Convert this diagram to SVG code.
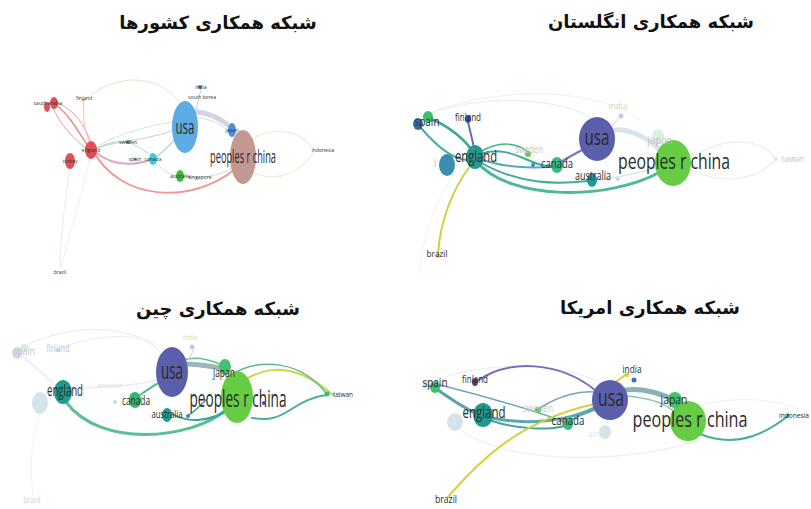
<svg xmlns="http://www.w3.org/2000/svg" width="811" height="509" viewBox="0 0 811 509">
<style>
.title{font-family:"DejaVu Sans",sans-serif;font-weight:bold;font-size:18px;fill:#111;text-anchor:middle}
.lb{font-family:"Open Sans","DejaVu Sans",sans-serif;fill:#2a2a2a;text-anchor:middle}
.tiny{font-family:"Open Sans",sans-serif;fill:#333;text-anchor:middle;font-size:5px}
.faint{fill:#c4c4c4}
.e{fill:none;stroke-linecap:round}
</style>
<rect width="811" height="509" fill="#fff"/>
<g id="titles">
<text class="title" x="218" y="29" direction="rtl">شبکه همکاری کشورها</text>
<text class="title" x="651" y="28" direction="rtl">شبکه همکاری انگلستان</text>
<text class="title" x="218" y="315" direction="rtl">شبکه همکاری چین</text>
<text class="title" x="650" y="314" direction="rtl">شبکه همکاری امریکا</text>
</g>

<!-- Panel 1 -->
<g id="p1-edges">
<path class="e" d="M84,100 C120,70 160,75 182,105" stroke="#f2e0cc" stroke-width="1"/>
<path class="e" d="M55,104 C70,115 80,135 88,146" stroke="#ec8888" stroke-width="1.5"/>
<path class="e" d="M52,106 C60,125 75,140 88,150" stroke="#ef9a9a" stroke-width="1"/>
<path class="e" d="M56,102 C75,110 85,125 92,145" stroke="#f0a0a0" stroke-width="1"/>
<path class="e" d="M84,101 C82,120 86,135 90,144" stroke="#f5c4a8" stroke-width="1"/>
<path class="e" d="M94,152 C120,200 190,205 234,170" stroke="#ee9a96" stroke-width="2"/>
<path class="e" d="M95,152 C115,168 135,165 150,160" stroke="#d8a8c8" stroke-width="2"/>
<path class="e" d="M96,148 C120,140 150,140 174,130" stroke="#c8d8e8" stroke-width="1.2"/>
<path class="e" d="M96,147 C115,135 150,125 173,122" stroke="#cfe8d8" stroke-width="1"/>
<path class="e" d="M95,150 C110,140 120,142 128,142" stroke="#a8d8a8" stroke-width="1"/>
<path class="e" d="M156,157 C165,150 172,143 176,138" stroke="#a8e0e8" stroke-width="1.5"/>
<path class="e" d="M130,143 C145,150 150,155 153,157" stroke="#b8e0b8" stroke-width="1"/>
<path class="e" d="M183,176 C200,180 220,175 233,168" stroke="#c8e8c8" stroke-width="1"/>
<path class="e" d="M155,162 C165,172 172,176 178,176" stroke="#c8e8c8" stroke-width="1"/>
<path class="e" d="M194,112 C210,112 222,120 232,128" stroke="#c8c8dc" stroke-width="5" opacity="0.8"/>
<path class="e" d="M196,118 C215,118 230,130 236,140" stroke="#d0d8e8" stroke-width="1"/>
<path class="e" d="M250,140 C275,125 300,130 314,150" stroke="#e8f0d4" stroke-width="1.2"/>
<path class="e" d="M252,172 C280,185 302,170 314,152" stroke="#e8f0d4" stroke-width="1.2"/>
<path class="e" d="M196,110 C198,100 200,95 201,89" stroke="#b8d0e8" stroke-width="1"/>
<path class="e" d="M70,168 C65,200 60,240 60,268" stroke="#f0e0e0" stroke-width="0.8"/>
<path class="e" d="M90,158 C80,200 68,240 61,268" stroke="#eaeaea" stroke-width="0.8"/>
</g>
<g id="p1-nodes">
<g id="p1-usa"><ellipse cx="185" cy="127" rx="13" ry="26" fill="#5eaae2"/><text class="lb" x="185" y="134" font-size="20" textLength="19" lengthAdjust="spacingAndGlyphs">usa</text></g>
<g id="p1-china"><ellipse cx="243" cy="157" rx="13" ry="27" fill="#c49892"/><text class="lb" x="243" y="163" font-size="18" textLength="66" lengthAdjust="spacingAndGlyphs">peoples r china</text></g>
<g id="p1-japan"><ellipse cx="232" cy="130" rx="4" ry="7" fill="#4a90d8"/><text class="tiny" x="232" y="132">japan</text></g>
<g id="p1-england"><ellipse cx="91" cy="150" rx="6" ry="9" fill="#e05058"/><text class="tiny" x="91" y="152" font-size="6">england</text></g>
<g id="p1-turkey"><ellipse cx="70" cy="161" rx="5" ry="8" fill="#e05058"/><text class="tiny" x="70" y="163" font-size="6">turkey</text></g>
<g id="p1-saudi"><ellipse cx="54" cy="103" rx="4" ry="6" fill="#e05058"/><ellipse cx="47" cy="107" rx="3" ry="5" fill="#e05058"/><text class="tiny" x="48" y="105" font-size="4">saudi arabia</text></g>
<g id="p1-finland"><circle cx="83" cy="100" r="1.5" fill="#f0b070"/><text class="tiny" x="84" y="100">finland</text></g>
<g id="p1-sweden"><circle cx="128" cy="142" r="2" fill="#40a040"/><text class="tiny" x="128" y="144">sweden</text></g>
<g id="p1-spain"><circle cx="135" cy="159" r="1.5" fill="#4aa0d0"/><text class="tiny" x="135" y="161">spain</text></g>
<g id="p1-canada"><ellipse cx="153" cy="159" rx="4" ry="6" fill="#40c8dc"/><text class="tiny" x="153" y="161">canada</text></g>
<g id="p1-australia"><ellipse cx="180" cy="176" rx="4" ry="6" fill="#3cb83c"/><text class="tiny" x="180" y="178">australia</text></g>
<g id="p1-singapore"><text class="tiny" x="200" y="179">singapore</text></g>
<g id="p1-india"><circle cx="200" cy="87" r="2" fill="#5070b0"/><text class="tiny" x="201" y="89">india</text><text class="tiny" x="202" y="99">south korea</text></g>
<g id="p1-indonesia"><text class="tiny" x="323" y="152">indonesia</text></g>
<g id="p1-brazil"><text class="tiny" x="60" y="274">brazil</text></g>
</g>

<!-- Panel 2 -->
<g id="p2-edges">
<path class="e" d="M420,117 C480,92 560,98 592,118" stroke="#dfeeee" stroke-width="1"/>
<path class="e" d="M430,113 C500,85 600,88 640,120" stroke="#e8f2f2" stroke-width="1"/>
<path class="e" d="M612,130 C630,128 648,138 660,150" stroke="#c4d8e4" stroke-width="5" opacity="0.7"/>
<path class="e" d="M690,158 C730,133 762,140 776,159" stroke="#e8f0dc" stroke-width="1.2"/>
<path class="e" d="M690,170 C730,188 762,176 776,159" stroke="#e6f2e8" stroke-width="1.2"/>
<path class="e" d="M455,172 C430,210 420,250 420,275" stroke="#eeeeee" stroke-width="0.8"/>
<path class="e" d="M476,161 C510,202 610,200 660,172" stroke="#4db89a" stroke-width="3"/>
<path class="e" d="M478,161 C520,186 560,184 588,181" stroke="#45aa98" stroke-width="2"/>
<path class="e" d="M480,154 C510,143 532,168 552,166" stroke="#40a8a0" stroke-width="2"/>
<path class="e" d="M480,159 C505,168 530,168 552,167" stroke="#5aa8b8" stroke-width="2"/>
<path class="e" d="M472,150 C458,132 440,122 430,119" stroke="#3aa898" stroke-width="2.5"/>
<path class="e" d="M421,128 C440,150 455,160 468,160" stroke="#48b09a" stroke-width="2"/>
<path class="e" d="M468,122 C471,135 473,143 474,148" stroke="#6a6ab8" stroke-width="2"/>
<path class="e" d="M480,152 C500,140 518,143 528,152" stroke="#44b08c" stroke-width="1.5"/>
<path class="e" d="M561,162 C572,155 582,150 588,147" stroke="#7878c8" stroke-width="2.5"/>
<path class="e" d="M597,180 C620,178 640,172 656,168" stroke="#cfe8e0" stroke-width="1.5"/>
<path class="e" d="M470,166 C452,190 440,222 438,254" stroke="#c8d440" stroke-width="2"/>
<path class="e" d="M612,126 C615,122 618,119 620,117" stroke="#c8c8e8" stroke-width="1"/>
</g>
<g id="p2-nodes">
<g id="p2-usa"><ellipse cx="597" cy="139" rx="18" ry="22" fill="#5b5eaa"/><text class="lb" x="597" y="145" font-size="22" textLength="25" lengthAdjust="spacingAndGlyphs">usa</text></g>
<g id="p2-china"><ellipse cx="673" cy="163" rx="18" ry="23" fill="#66cc44"/><text class="lb" x="674" y="169" font-size="22" textLength="112" lengthAdjust="spacingAndGlyphs">peoples r china</text></g>
<g id="p2-left"><ellipse cx="447" cy="165" rx="8" ry="11" fill="#3a8db0"/><text class="lb faint" x="435" y="167" font-size="10">l</text></g>
<g id="p2-england"><ellipse cx="475" cy="157" rx="9" ry="12" fill="#26998f"/><text class="lb" x="476" y="162" font-size="16" textLength="42" lengthAdjust="spacingAndGlyphs">england</text></g>
<g id="p2-spain"><ellipse cx="418" cy="124" rx="5" ry="6" fill="#3a6fa8"/><ellipse cx="428" cy="117" rx="5" ry="6" fill="#3cc070"/><text class="lb" x="427" y="126" font-size="13" textLength="25" lengthAdjust="spacingAndGlyphs">spain</text></g>
<g id="p2-finland"><ellipse cx="468" cy="119" rx="3" ry="4" fill="#4a4aa0"/><text class="lb" x="468" y="121" font-size="10" textLength="26" lengthAdjust="spacingAndGlyphs">finland</text></g>
<g id="p2-sweden"><circle cx="528" cy="154" r="3" fill="#66cc44"/><text class="lb faint" x="529" y="153" font-size="10" textLength="28" lengthAdjust="spacingAndGlyphs">sweden</text></g>
<g id="p2-canada"><circle cx="533" cy="165" r="2" fill="#3a8ab0"/><ellipse cx="557" cy="165" rx="6" ry="8" fill="#33bb88"/><text class="lb" x="557" y="168" font-size="13" textLength="32" lengthAdjust="spacingAndGlyphs">canada</text></g>
<g id="p2-australia"><ellipse cx="592" cy="180" rx="5" ry="7" fill="#22999a"/><circle cx="618" cy="179" r="2" fill="#d0d4e4"/><text class="lb" x="593" y="180" font-size="12" textLength="36" lengthAdjust="spacingAndGlyphs">australia</text></g>
<g id="p2-india"><circle cx="621" cy="116" r="2.5" fill="#c8c8e8"/><text class="lb" x="618" y="109" font-size="9" style="fill:#ddd6a0" textLength="19" lengthAdjust="spacingAndGlyphs">india</text></g>
<g id="p2-japan"><ellipse cx="658" cy="137" rx="6" ry="8" fill="#d8f0e0"/><text class="lb faint" x="660" y="144" font-size="11" textLength="25" lengthAdjust="spacingAndGlyphs">japan</text></g>
<g id="p2-taiwan"><circle cx="776" cy="159" r="1.5" fill="#d0e4d8"/><text class="lb faint" x="793" y="162" font-size="9" textLength="23" lengthAdjust="spacingAndGlyphs">taiwan</text></g>
<g id="p2-brazil"><circle cx="438" cy="256" r="2" fill="#e8d820"/><text class="lb" x="437" y="257" font-size="9" textLength="21" lengthAdjust="spacingAndGlyphs">brazil</text></g>
</g>

<!-- Panel 3 -->
<g id="p3-edges">
<path class="e" d="M20,348 C80,318 140,328 160,352" stroke="#e4eaee" stroke-width="1"/>
<path class="e" d="M60,348 C110,330 150,335 165,350" stroke="#eaeef2" stroke-width="1"/>
<path class="e" d="M22,356 C40,370 50,380 56,386" stroke="#e4eaee" stroke-width="1.5"/>
<path class="e" d="M72,390 C100,385 130,388 156,380" stroke="#e8eef0" stroke-width="1.5"/>
<path class="e" d="M40,414 C30,440 30,470 33,495" stroke="#eeeeee" stroke-width="0.8"/>
<path class="e" d="M186,364 C200,364 212,367 220,368" stroke="#9ab8b8" stroke-width="5"/>
<path class="e" d="M66,402 C100,448 190,440 226,410" stroke="#5ac090" stroke-width="3"/>
<path class="e" d="M140,395 C150,388 158,383 162,381" stroke="#55c090" stroke-width="2"/>
<path class="e" d="M172,414 C190,424 210,420 225,412" stroke="#3aa0a0" stroke-width="2"/>
<path class="e" d="M188,416 C196,410 202,404 206,400" stroke="#3a8ab0" stroke-width="1.2"/>
<path class="e" d="M246,379 C262,370 278,366 300,374 C315,380 325,388 333,395" stroke="#c8d84a" stroke-width="2"/>
<path class="e" d="M232,374 C260,358 300,360 326,393" stroke="#5ab890" stroke-width="1.5"/>
<path class="e" d="M252,418 C265,420 275,420 290,410 C305,400 318,396 326,395" stroke="#4ab09a" stroke-width="2"/>
<path class="e" d="M184,360 C196,356 210,360 220,364" stroke="#66c090" stroke-width="1.5"/>
<path class="e" d="M193,350 C192,355 190,357 188,360" stroke="#d0d0e8" stroke-width="1"/>
</g>
<g id="p3-nodes">
<g id="p3-usa"><ellipse cx="172" cy="372" rx="16" ry="25" fill="#5b5eaa"/><text class="lb" x="172" y="379" font-size="24" textLength="22" lengthAdjust="spacingAndGlyphs">usa</text></g>
<g id="p3-china"><ellipse cx="237" cy="397" rx="16" ry="26" fill="#66cc44"/><text class="lb" x="238" y="407" font-size="24" textLength="97" lengthAdjust="spacingAndGlyphs">peoples r china</text></g>
<g id="p3-japan"><ellipse cx="225" cy="367" rx="6" ry="8" fill="#44c070"/><text class="lb" x="224" y="377" font-size="13" textLength="22" lengthAdjust="spacingAndGlyphs">japan</text></g>
<g id="p3-left"><ellipse cx="40" cy="403" rx="8" ry="11" fill="#d6e4ea"/></g>
<g id="p3-england"><ellipse cx="63" cy="392" rx="9" ry="12" fill="#22998f"/><text class="lb" x="65" y="396" font-size="17" textLength="36" lengthAdjust="spacingAndGlyphs">england</text></g>
<g id="p3-spain"><ellipse cx="17" cy="353" rx="5" ry="6" fill="#d8d8ec"/><circle cx="24" cy="348" r="4" fill="#d8efe0"/><text class="lb faint" x="24" y="355" font-size="11" textLength="22" lengthAdjust="spacingAndGlyphs">spain</text></g>
<g id="p3-finland"><circle cx="58" cy="350" r="2" fill="#d8d8ec"/><text class="lb faint" x="58" y="352" font-size="10" textLength="23" lengthAdjust="spacingAndGlyphs">finland</text></g>
<g id="p3-india"><circle cx="192" cy="347" r="2.5" fill="#c8c8e8"/><text class="lb" x="190" y="340" font-size="8" style="fill:#ddd6a0" textLength="14" lengthAdjust="spacingAndGlyphs">india</text></g>
<g id="p3-sweden"><text class="lb" x="110" y="388" font-size="8" style="fill:#d4e8d4" textLength="25" lengthAdjust="spacingAndGlyphs">sweden</text></g>
<g id="p3-canada"><circle cx="115" cy="402" r="2" fill="#ccd8e0"/><ellipse cx="135" cy="400" rx="6" ry="8" fill="#33b870"/><text class="lb" x="136" y="405" font-size="12" textLength="28" lengthAdjust="spacingAndGlyphs">canada</text></g>
<g id="p3-australia"><ellipse cx="167" cy="415" rx="5" ry="7" fill="#22999a"/><circle cx="188" cy="416" r="2" fill="#3a8ab0"/><text class="lb" x="167" y="418" font-size="11" textLength="31" lengthAdjust="spacingAndGlyphs">australia</text></g>
<g id="p3-other"><circle cx="264" cy="403" r="2" fill="#4050a0"/></g>
<g id="p3-taiwan"><circle cx="327" cy="394" r="2.5" fill="#33bb88"/><text class="lb" x="333" y="397" font-size="8" style="text-anchor:start" textLength="20" lengthAdjust="spacingAndGlyphs">taiwan</text></g>
<g id="p3-brazil"><text class="lb" x="32" y="503" font-size="9" style="fill:#d0d0d0" textLength="17" lengthAdjust="spacingAndGlyphs">brazil</text></g>
</g>

<!-- Panel 4 -->
<g id="p4-edges">
<path class="e" d="M430,383 C480,360 560,362 600,382" stroke="#e6ecee" stroke-width="1"/>
<path class="e" d="M460,430 C520,470 640,460 700,440" stroke="#eef2f2" stroke-width="1.5"/>
<path class="e" d="M700,405 C740,395 780,400 800,410" stroke="#eef2ee" stroke-width="1"/>
<path class="e" d="M625,390 C645,388 660,394 670,398" stroke="#8ab0b8" stroke-width="5"/>
<path class="e" d="M438,390 C452,400 465,408 475,413" stroke="#5aa0b0" stroke-width="3"/>
<path class="e" d="M492,418 C530,426 570,420 594,408" stroke="#5aa8b0" stroke-width="3"/>
<path class="e" d="M492,421 C520,430 550,430 564,426" stroke="#4aa0a8" stroke-width="2"/>
<path class="e" d="M440,385 C480,395 540,412 564,422" stroke="#6aa8b8" stroke-width="1.5"/>
<path class="e" d="M540,408 C560,395 580,391 594,392" stroke="#7aa0c0" stroke-width="1.5"/>
<path class="e" d="M571,420 C580,415 588,412 594,410" stroke="#5aa8b0" stroke-width="2"/>
<path class="e" d="M477,381 C510,358 560,362 595,390" stroke="#7a6ac0" stroke-width="2"/>
<path class="e" d="M448,497 C480,460 520,420 595,404" stroke="#d4d040" stroke-width="2"/>
<path class="e" d="M614,383 C620,379 624,376 628,373" stroke="#d8d040" stroke-width="2"/>
<path class="e" d="M700,434 C740,450 770,430 788,416" stroke="#4eaaa0" stroke-width="2"/>
<path class="e" d="M626,396 C650,398 665,404 672,410" stroke="#9ac0b8" stroke-width="1.5"/>
</g>
<g id="p4-nodes">
<g id="p4-usa"><ellipse cx="610" cy="400" rx="18" ry="20" fill="#5b5eaa"/><text class="lb" x="611" y="406" font-size="24" textLength="26" lengthAdjust="spacingAndGlyphs">usa</text></g>
<g id="p4-china"><ellipse cx="688" cy="421" rx="18" ry="20" fill="#66cc44"/><text class="lb" x="690" y="427" font-size="22" textLength="115" lengthAdjust="spacingAndGlyphs">peoples r china</text></g>
<g id="p4-japan"><ellipse cx="675" cy="400" rx="7" ry="8" fill="#44c070"/><text class="lb" x="674" y="404" font-size="12" textLength="27" lengthAdjust="spacingAndGlyphs">japan</text></g>
<g id="p4-india"><circle cx="627" cy="375" r="2" fill="#e0d020"/><circle cx="634" cy="380" r="2.5" fill="#4a6ac0"/><text class="lb" x="632" y="373" font-size="10" textLength="19" lengthAdjust="spacingAndGlyphs">india</text></g>
<g id="p4-indonesia"><circle cx="788" cy="415" r="1.5" fill="#2a9a8a"/><text class="lb" x="809" y="418" font-size="8" style="text-anchor:end" textLength="30" lengthAdjust="spacingAndGlyphs">indonesia</text></g>
<g id="p4-left"><ellipse cx="455" cy="422" rx="8" ry="9" fill="#d6e4ea"/></g>
<g id="p4-spain"><circle cx="426" cy="385" r="4" fill="#dde4ea"/><ellipse cx="435" cy="387" rx="5" ry="6" fill="#3cc070"/><text class="lb" x="435" y="387" font-size="13" textLength="25" lengthAdjust="spacingAndGlyphs">spain</text></g>
<g id="p4-finland"><ellipse cx="475" cy="382" rx="3" ry="4" fill="#4a3a9a"/><text class="lb" x="475" y="383" font-size="10" textLength="26" lengthAdjust="spacingAndGlyphs">finland</text></g>
<g id="p4-england"><ellipse cx="483" cy="415" rx="10" ry="12" fill="#22998f"/><text class="lb" x="484" y="418" font-size="16" textLength="43" lengthAdjust="spacingAndGlyphs">england</text></g>
<g id="p4-sweden"><circle cx="538" cy="410" r="3" fill="#55cc44"/><text class="lb faint" x="538" y="412" font-size="10" textLength="30" lengthAdjust="spacingAndGlyphs">sweden</text></g>
<g id="p4-canada"><ellipse cx="568" cy="424" rx="5" ry="6" fill="#33bb77"/><text class="lb" x="568" y="425" font-size="13" textLength="33" lengthAdjust="spacingAndGlyphs">canada</text></g>
<g id="p4-australia"><ellipse cx="605" cy="432" rx="6" ry="7" fill="#d6e4ea"/><text class="lb" x="599" y="437" font-size="9" style="fill:#dfe4ea" textLength="22" lengthAdjust="spacingAndGlyphs">australia</text></g>
<g id="p4-brazil"><text class="lb" x="446" y="503" font-size="10" textLength="22" lengthAdjust="spacingAndGlyphs">brazil</text></g>
</g>
</svg>
